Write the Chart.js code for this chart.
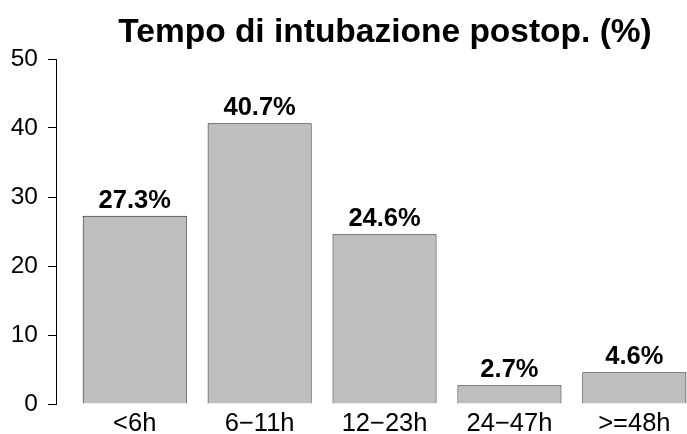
<!DOCTYPE html>
<html>
<head>
<meta charset="utf-8">
<script src="https://cdn.jsdelivr.net/npm/chart.js@4"></script>
<style>
  html, body { margin: 0; padding: 0; background: #ffffff; }
  #wrap { width: 687px; height: 434px; position: relative; }
</style>
</head>
<body>
<div id="wrap"><canvas id="c"></canvas></div>
<script>
const chartTitle = 'Tempo di intubazione postop. (%)';
const categories = ['<6h', '6\u221211h', '12\u221223h', '24\u221247h', '>=48h'];
const percentages = [27.3, 40.7, 24.6, 2.7, 4.6];
const yTicks = [0, 10, 20, 30, 40, 50];

// R barplot layout: width 1, space 0.2
const barCenters = categories.map((_, i) => 0.7 + 1.2 * i);

const FONT = '"Liberation Sans", Arial, Helvetica, sans-serif';

const titlePlugin = {
  id: 'rTitle',
  afterDraw(chart) {
    const ctx = chart.ctx;
    ctx.save();
    ctx.font = 'bold 33.5px ' + FONT;
    ctx.fillStyle = '#000';
    ctx.textAlign = 'center';
    ctx.textBaseline = 'alphabetic';
    ctx.fillText(chartTitle, 385, 42);
    ctx.restore();
  }
};

const valueLabels = {
  id: 'valueLabels',
  afterDatasetsDraw(chart) {
    const ctx = chart.ctx;
    const meta = chart.getDatasetMeta(0);
    ctx.save();
    ctx.font = 'bold 25.5px ' + FONT;
    ctx.fillStyle = '#000';
    ctx.textAlign = 'center';
    ctx.textBaseline = 'alphabetic';
    meta.data.forEach((bar, i) => {
      ctx.fillText(percentages[i].toFixed(1) + '%', bar.x, bar.y - 8);
    });
    ctx.restore();
  }
};

new Chart(document.getElementById('c'), {
  type: 'bar',
  data: {
    datasets: [{
      data: percentages.map((v, i) => ({ x: barCenters[i], y: v })),
      backgroundColor: '#BEBEBE',
      borderColor: '#1a1a1a',
      borderWidth: 1,
      categoryPercentage: 1 / 1.2,
      barPercentage: 1
    }]
  },
  options: {
    responsive: true,
    maintainAspectRatio: false,
    animation: false,
    layout: { padding: { top: 59, right: 0, bottom: 0, left: 0 } },
    plugins: {
      legend: { display: false },
      title: { display: false },
      tooltip: { enabled: false }
    },
    scales: {
      x: {
        type: 'linear',
        offset: false,
        min: -0.0565,
        max: 6.006,
        grid: { display: false, drawTicks: false, offset: false },
        border: { display: false },
        afterBuildTicks(scale) {
          scale.ticks = barCenters.map(v => ({ value: v }));
        },
        afterFit(scale) { scale.height = 30; },
        ticks: {
          autoSkip: false,
          maxRotation: 0,
          padding: 5,
          color: '#000',
          font: { family: FONT, size: 25.5 },
          callback: (value, index) => categories[index]
        }
      },
      y: {
        type: 'linear',
        min: 0,
        max: 50,
        afterBuildTicks(scale) {
          scale.ticks = yTicks.map(v => ({ value: v }));
        },
        afterFit(scale) { scale.width = 56; },
        grid: {
          drawOnChartArea: false,
          drawTicks: true,
          tickLength: 8,
          color: '#000',
          lineWidth: 1
        },
        border: { display: true, color: '#000', width: 1 },
        ticks: {
          padding: 10,
          color: '#000',
          font: { family: FONT, size: 24.5 }
        }
      }
    }
  },
  plugins: [titlePlugin, valueLabels]
});
</script>
</body>
</html>
